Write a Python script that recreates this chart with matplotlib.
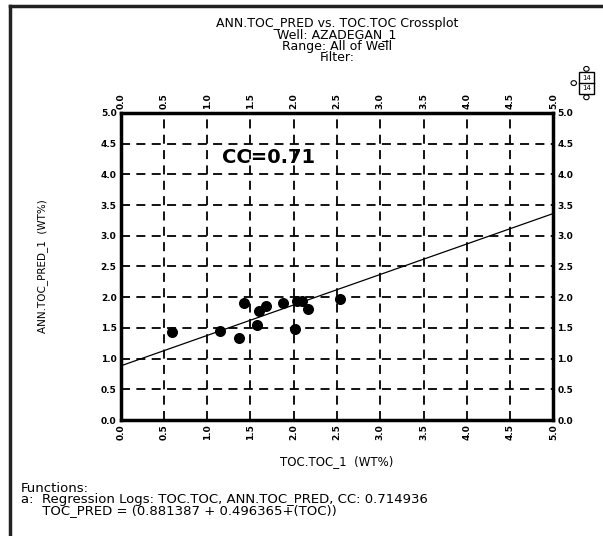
import numpy as np
import matplotlib.pyplot as plt
from matplotlib.patches import Rectangle, Circle
from matplotlib.lines import Line2D

# measured points (TOC vs ANN predicted TOC)
toc = [0.59, 1.15, 1.37, 1.43, 1.57, 1.60, 1.68, 1.88, 2.01, 2.04, 2.10, 2.17, 2.53]
toc_pred = [1.43, 1.45, 1.34, 1.90, 1.55, 1.78, 1.86, 1.91, 1.49, 1.94, 1.93, 1.81, 1.97]

# regression from the footer
intercept = 0.881387
slope = 0.496365
cc = 0.714936

ticks = [0.0, 0.5, 1.0, 1.5, 2.0, 2.5, 3.0, 3.5, 4.0, 4.5, 5.0]
tick_labels = ["%.1f" % t for t in ticks]

fig = plt.figure(figsize=(6.03, 5.36), dpi=100)
ax = fig.add_axes([0.2002, 0.2164, 0.7174, 0.5728])

ax.set_xlim(0, 5)
ax.set_ylim(0, 5)

# dashed grid
for t in ticks[1:-1]:
    ax.axvline(t, color='black', lw=1.3, ls=(0, (5, 3.5)), zorder=1)
    ax.axhline(t, color='black', lw=1.3, ls=(0, (5, 3.5)), zorder=1)

ax.scatter(toc, toc_pred, s=48, color='black', zorder=3)

xl = np.array([0, 5])
ax.plot(xl, intercept + slope * xl, color='black', lw=0.9, zorder=2)

ax.text(1.17, 4.27, "CC=%.2f" % cc, fontsize=14, fontweight='bold', va='center')

for s in ax.spines.values():
    s.set_linewidth(2.5)

ax.set_xticks(ticks)
ax.set_yticks(ticks)
ax.set_xticklabels(tick_labels, rotation=90, fontsize=6.5, fontweight='bold')
ax.set_yticklabels(tick_labels, fontsize=6.5, fontweight='bold')
ax.tick_params(top=True, right=True, labeltop=True, labelright=True,
               direction='in', length=0, pad=3)

ax.set_xlabel("TOC.TOC_1  (WT%)", fontsize=8.5, labelpad=11)
ax.set_ylabel("ANN.TOC_PRED_1  (WT%)", fontsize=7.5, labelpad=38)

title = "ANN.TOC_PRED vs. TOC.TOC Crossplot\nWell: AZADEGAN_1\nRange: All of Well\nFilter:"
fig.text(0.559, 0.968, title, ha='center', va='top', fontsize=9, linespacing=0.82)

footer = ("Functions:\n"
          "a:  Regression Logs: TOC.TOC, ANN.TOC_PRED, CC: %.6f\n"
          "     TOC_PRED = (%.6f + %.6f+(TOC))" % (cc, intercept, slope))
fig.text(0.035, 0.1, footer, ha='left', va='top', fontsize=9.5, linespacing=0.8)

# small legend glyph top right
g = fig.add_axes([0.945, 0.81, 0.05, 0.07])
g.set_xlim(0, 10)
g.set_ylim(0, 14)
g.axis('off')
g.add_patch(Rectangle((3, 3), 5, 8, fill=False, lw=1.0))
g.add_line(Line2D([3, 8], [7, 7], color='black', lw=1.0))
g.text(5.5, 9, "14", ha='center', va='center', fontsize=5)
g.text(5.5, 5, "14", ha='center', va='center', fontsize=5)
g.add_patch(Circle((5.5, 12.3), 0.9, fill=False, lw=0.8))
g.add_patch(Circle((5.5, 1.7), 0.9, fill=False, lw=0.8))
g.add_patch(Circle((1.3, 7), 0.9, fill=False, lw=0.8))

# outer frame: left and top only
fig.add_artist(Line2D([0.017, 0.017], [0.0, 0.989], color='#222222', lw=2.5))
fig.add_artist(Line2D([0.017, 1.0], [0.989, 0.989], color='#222222', lw=2.5))

fig.savefig("out.png", dpi=100)
